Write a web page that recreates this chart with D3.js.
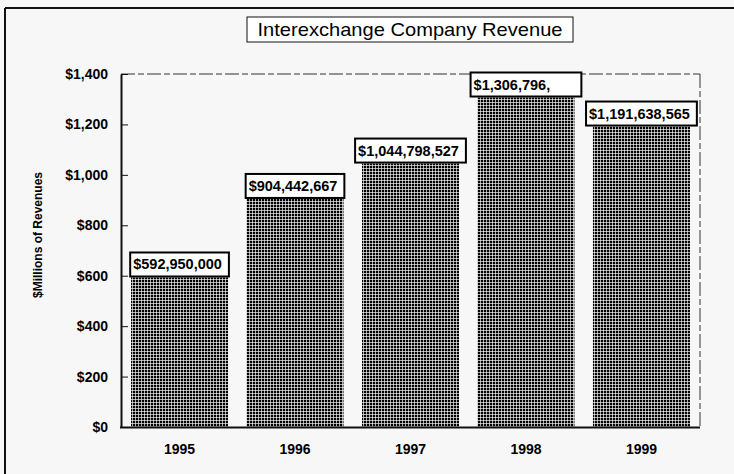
<!DOCTYPE html>
<html>
<head>
<meta charset="utf-8">
<script src="https://cdn.jsdelivr.net/npm/d3@7"></script>
<style>
  html, body { margin: 0; padding: 0; background: #f7f7f7; }
  svg { display: block; }
  text { font-family: "Liberation Sans", Arial, sans-serif; }
</style>
</head>
<body>
<svg id="chart" width="734" height="474"></svg>
<script>
// ---- data ----
const years = ["1995", "1996", "1997", "1998", "1999"];
const revenues = [592950000, 904442667, 1044798527, 1306796000, 1191638565];
const valueLabels = ["$592,950,000", "$904,442,667", "$1,044,798,527", "$1,306,796,", "$1,191,638,565"];
const yTicks = [0, 200, 400, 600, 800, 1000, 1200, 1400];
const chartTitle = "Interexchange Company Revenue";
const yTitle = "$Millions of Revenues";

// ---- layout ----
const svg = d3.select("#chart");
const W = 734, H = 474;
const plot = { left: 121, right: 700, top: 74, bottom: 427 };

// outer frame (left and top edges visible)
svg.append("rect").attr("x", 0).attr("y", 0).attr("width", W).attr("height", H).attr("fill", "#f7f7f7");
svg.append("line").attr("x1", 5).attr("x2", W).attr("y1", 8).attr("y2", 8)
  .attr("stroke", "#111").attr("stroke-width", 2);
svg.append("line").attr("x1", 5).attr("x2", 5).attr("y1", 8).attr("y2", H)
  .attr("stroke", "#111").attr("stroke-width", 2);

// pattern for bars
const defs = svg.append("defs");
const pat = defs.append("pattern").attr("id", "grid").attr("patternUnits", "userSpaceOnUse")
  .attr("width", 3).attr("height", 3);
pat.append("rect").attr("width", 3).attr("height", 3).attr("fill", "#000");
pat.append("rect").attr("x", 0).attr("y", 0).attr("width", 3).attr("height", 1).attr("fill", "#fff").attr("opacity", 0.65);
pat.append("rect").attr("x", 0).attr("y", 0).attr("width", 1).attr("height", 3).attr("fill", "#fff").attr("opacity", 0.65);

// scales
const x = d3.scaleBand().domain(years).range([plot.left, plot.right])
  .paddingInner(0.16).paddingOuter(0.087);
const y = d3.scaleLinear().domain([0, 1400]).range([plot.bottom, plot.top]);

// plot frame (dashed top & right)
svg.append("line").attr("x1", plot.left).attr("x2", plot.right).attr("y1", plot.top).attr("y2", plot.top)
  .attr("stroke", "#333").attr("stroke-width", 1).attr("stroke-dasharray", "14,3,6,3");
svg.append("line").attr("x1", plot.right).attr("x2", plot.right).attr("y1", plot.top).attr("y2", plot.bottom)
  .attr("stroke", "#333").attr("stroke-width", 1).attr("stroke-dasharray", "14,3,6,3");

// bars
const data = years.map((yr, i) => ({ year: yr, value: revenues[i] / 1e6, label: valueLabels[i], full: revenues[i] }));
svg.append("g").selectAll("rect").data(data).join("rect")
  .attr("x", d => x(d.year))
  .attr("y", d => y(d.value))
  .attr("width", x.bandwidth())
  .attr("height", d => y(0) - y(d.value))
  .attr("fill", "url(#grid)");

// baseline
svg.append("line").attr("x1", plot.left - 1).attr("x2", plot.right).attr("y1", y(0) + 0.5).attr("y2", y(0) + 0.5)
  .attr("stroke", "#111").attr("stroke-width", 2);

// y axis
const yAxis = svg.append("g").attr("transform", `translate(${plot.left},0)`)
  .call(d3.axisLeft(y).tickValues(yTicks).tickFormat(d3.format("$,")).tickSizeInner(-7).tickSizeOuter(0).tickPadding(13));
yAxis.select(".domain").attr("stroke", "#111").attr("stroke-width", 2);
yAxis.selectAll(".tick line").attr("stroke", "#111").attr("stroke-width", 1);
yAxis.selectAll(".tick text").attr("fill", "#000").attr("font-size", "14px").attr("font-weight", "bold")
  .style("font-family", "'Liberation Sans', Arial, sans-serif");

// x labels
svg.append("g").selectAll("text").data(years).join("text")
  .attr("x", d => x(d) + x.bandwidth() / 2)
  .attr("y", 454)
  .attr("text-anchor", "middle")
  .attr("font-size", "14px").attr("font-weight", "bold").attr("fill", "#000")
  .text(d => d);

// y title
svg.append("text")
  .attr("transform", "translate(42,235) rotate(-90)")
  .attr("text-anchor", "middle")
  .attr("font-size", "12px").attr("font-weight", "bold").attr("fill", "#000")
  .text(yTitle);

// value label boxes
const fmt = d3.format("$,");
const lab = svg.append("g");
data.forEach(d => {
  const g = lab.append("g");
  const tmp = g.append("text").attr("font-size", "14.5px").attr("font-weight", "bold").text(fmt(Math.round(d.full)));
  const tw = tmp.node().getComputedTextLength();
  tmp.remove();
  const bw = tw + 10, bh = 24;
  const cx = x(d.year) + x.bandwidth() / 2;
  const bx = cx - bw / 2, by = y(d.value) - bh - 1;
  g.append("rect").attr("x", bx).attr("y", by).attr("width", bw).attr("height", bh)
    .attr("fill", "#fff").attr("stroke", "#000").attr("stroke-width", 2);
  g.append("text").attr("x", bx + 3).attr("y", by + bh - 7)
    .attr("font-size", "14.5px").attr("font-weight", "bold").attr("fill", "#000")
    .text(d.label);
});

// title box
const tg = svg.append("g");
tg.append("rect").attr("x", 247).attr("y", 17).attr("width", 326).attr("height", 25)
  .attr("fill", "#fff").attr("stroke", "#111").attr("stroke-width", 1);
tg.append("text").attr("x", 410).attr("y", 36).attr("text-anchor", "middle")
  .attr("font-size", "19px").attr("fill", "#000")
  .attr("textLength", 305).attr("lengthAdjust", "spacingAndGlyphs")
  .text(chartTitle);
</script>
</body>
</html>
